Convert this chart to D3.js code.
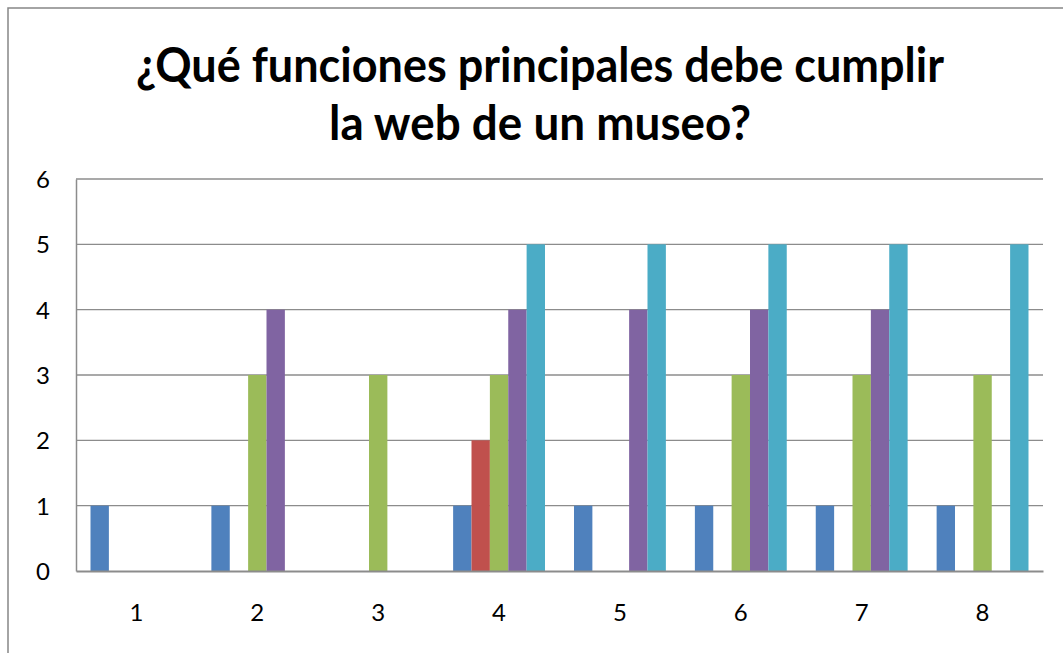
<!DOCTYPE html>
<html>
<head>
<meta charset="utf-8">
<script src="https://cdn.jsdelivr.net/npm/d3@7"></script>
<style>
  body { margin: 0; background: #fff; }
  svg { display: block; font-family: Lato, "Open Sans", sans-serif; }
</style>
</head>
<body>
<div id="area"></div>
<script>
// chart data
var categories = ["1", "2", "3", "4", "5", "6", "7", "8"];
var seriesNames = ["S1", "S2", "S3", "S4", "S5"];
var s1 = [1, 1, 0, 1, 1, 1, 1, 1];
var s2 = [0, 0, 0, 2, 0, 0, 0, 0];
var s3 = [0, 3, 3, 3, 0, 3, 3, 3];
var s4 = [0, 4, 0, 4, 4, 4, 4, 0];
var s5 = [0, 0, 0, 5, 5, 5, 5, 5];
var yTicks = [0, 1, 2, 3, 4, 5, 6];
var titleLines = ["¿Qué funciones principales debe cumplir", "la web de un museo?"];

var seriesValues = [s1, s2, s3, s4, s5];
var colors = ["#4F81BD", "#C0504D", "#9BBB59", "#8064A2", "#4BACC6"];

var W = 1063, H = 653;
var margin = {top: 179, right: 20, bottom: 82, left: 76},
    width = W - margin.left - margin.right,
    height = H - margin.top - margin.bottom;

var svg = d3.select('#area').append('svg')
    .attr('width', W)
    .attr('height', H);

// outer frame of the chart object
svg.append('rect')
    .attr('x', 8).attr('y', 8)
    .attr('width', W + 20).attr('height', H + 20)
    .attr('fill', 'none')
    .attr('stroke', '#868686')
    .attr('stroke-width', 1.5);

// title
svg.append('g').selectAll('text')
  .data(titleLines)
  .enter().append('text')
    .attr('x', 540)
    .attr('y', function(d, i) { return 82 + i * 58; })
    .attr('text-anchor', 'middle')
    .attr('font-weight', 'bold')
    .attr('font-size', 48)
    .attr('fill', '#000')
    .attr('textLength', function(d, i) { return i == 0 ? 808 : 422; })
    .attr('lengthAdjust', 'spacingAndGlyphs')
    .text(function(d) { return d; });

var g = svg.append('g')
    .attr('transform', 'translate(' + margin.left + ',' + margin.top + ')');

var x0 = d3.scaleBand()
    .domain(categories)
    .range([0, width]);

var gap = x0.bandwidth() * 0.12;
var x1 = d3.scaleBand()
    .domain(seriesNames)
    .range([gap, x0.bandwidth() - gap]);

var y = d3.scaleLinear()
    .domain([0, 6])
    .range([height, 0]);

// gridlines
g.append('g').selectAll('line')
  .data(yTicks.filter(function(d) { return d > 0; }))
  .enter().append('line')
    .attr('x1', 0).attr('x2', width)
    .attr('y1', function(d) { return y(d); })
    .attr('y2', function(d) { return y(d); })
    .attr('stroke', '#8c8c8c')
    .attr('stroke-width', 1.3);

// bars
var groups = g.selectAll('.group')
  .data(categories)
  .enter().append('g')
    .attr('class', 'group')
    .attr('transform', function(d) { return 'translate(' + x0(d) + ',0)'; });

groups.selectAll('rect')
  .data(function(d, ci) {
    return seriesNames.map(function(s, si) {
      return {key: s, value: seriesValues[si][ci], color: colors[si]};
    }).filter(function(e) { return e.value > 0; });
  })
  .enter().append('rect')
    .attr('x', function(d) { return x1(d.key); })
    .attr('y', function(d) { return y(d.value); })
    .attr('width', x1.bandwidth())
    .attr('height', function(d) { return height - y(d.value); })
    .attr('fill', function(d) { return d.color; });

// axes
var yAxis = d3.axisLeft(y).tickValues(yTicks).tickSize(0).tickPadding(26).tickFormat(d3.format('d'));
var gy = g.append('g').call(yAxis);
gy.select('.domain').attr('stroke', '#8c8c8c').attr('stroke-width', 1.5);
gy.selectAll('text')
    .attr('dy', '0.36em')
    .style('font-family', 'Lato, sans-serif')
    .style('font-size', '24px')
    .style('fill', '#000');

var xAxis = d3.axisBottom(x0).tickSize(0).tickPadding(33);
var gx = g.append('g')
    .attr('transform', 'translate(0,' + height + ')')
    .call(xAxis);
gx.select('.domain').attr('stroke', '#8c8c8c').attr('stroke-width', 2);
gx.selectAll('text')
    .style('font-family', 'Lato, sans-serif')
    .style('font-size', '24px')
    .style('fill', '#000');
</script>
</body>
</html>
